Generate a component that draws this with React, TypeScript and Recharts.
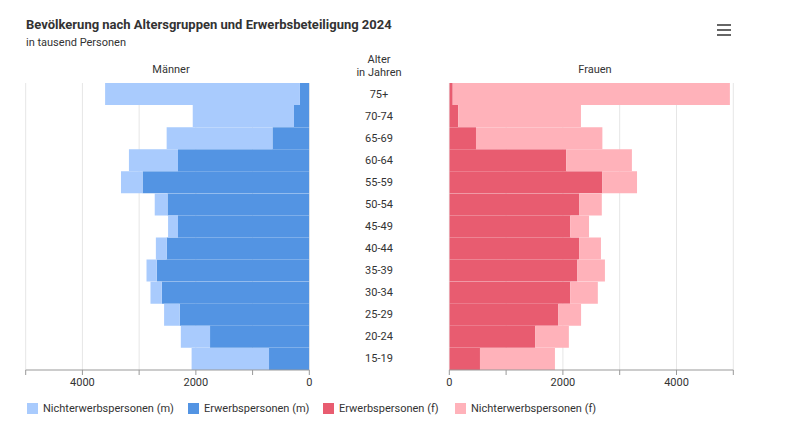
import React from 'react';
import { BarChart, Bar, XAxis, YAxis, CartesianGrid } from 'recharts';

if (typeof document !== 'undefined') {
  document.body.style.margin = '0';
}

const ageGroups = ['75+', '70-74', '65-69', '60-64', '55-59', '50-54', '45-49', '40-44', '35-39', '30-34', '25-29', '20-24', '15-19'];
const erwerbM = [165, 270, 650, 2315, 2940, 2500, 2315, 2515, 2690, 2600, 2285, 1750, 710];
const nichtM = [3435, 1785, 1865, 865, 380, 225, 175, 190, 180, 200, 275, 515, 1365];
const erwerbF = [60, 158, 470, 2060, 2695, 2290, 2130, 2285, 2255, 2130, 1920, 1515, 540];
const nichtF = [4880, 2160, 2225, 1155, 610, 395, 330, 385, 485, 485, 400, 590, 1320];
const xTicks = [0, 1000, 2000, 3000, 4000, 5000];

const C_NM = '#a9cbfd';
const C_EM = '#5394e3';
const C_EF = '#e85c70';
const C_NF = '#ffb2ba';

const FONT = 'Roboto, "Noto Sans", sans-serif';

const data = ageGroups.map((age, i) => ({
  age,
  erwM: erwerbM[i],
  nichtM: nichtM[i],
  erwF: erwerbF[i],
  nichtF: nichtF[i],
}));

const fmt = (v: number) => (v % 2000 === 0 ? String(v) : '');

const AgeTick = (props: any) => {
  const { x, y, payload } = props;
  return (
    <text x={x + 69.7} y={y} textAnchor="middle" dominantBaseline="central" fontSize={11} fill="#333" fontFamily={FONT}>
      {payload.value}
    </text>
  );
};

const axisProps = {
  type: 'number' as const,
  domain: [0, 5000],
  ticks: xTicks,
  interval: 0 as const,
  height: 30,
  tickSize: 5,
  tickMargin: 3,
  axisLine: { stroke: '#999' },
  tickLine: { stroke: '#999' },
  tick: { fill: '#333', fontSize: 11, fontFamily: FONT },
  tickFormatter: fmt,
  allowDataOverflow: true,
};

const legendItems = [
  { label: 'Nichterwerbspersonen (m)', color: C_NM, x: 27 },
  { label: 'Erwerbspersonen (m)', color: C_EM, x: 188 },
  { label: 'Erwerbspersonen (f)', color: C_EF, x: 323 },
  { label: 'Nichterwerbspersonen (f)', color: C_NF, x: 455 },
];

export default function App() {
  return (
    <div style={{ position: 'relative', width: 786, height: 422, background: '#fff', fontFamily: FONT, overflow: 'hidden' }}>
      <div style={{ position: 'absolute', left: 26, top: 17, fontSize: 13, fontWeight: 700, color: '#333', whiteSpace: 'nowrap' }}>
        Bevölkerung nach Altersgruppen und Erwerbsbeteiligung 2024
      </div>
      <div style={{ position: 'absolute', left: 26, top: 36, fontSize: 11, color: '#333', whiteSpace: 'nowrap' }}>
        in tausend Personen
      </div>
      <svg style={{ position: 'absolute', left: 716, top: 23 }} width={16} height={14}>
        <rect x={1} y={1} width={14} height={2} fill="#666" />
        <rect x={1} y={6} width={14} height={2} fill="#666" />
        <rect x={1} y={11} width={14} height={2} fill="#666" />
      </svg>
      <div style={{ position: 'absolute', left: 121, width: 100, top: 63, fontSize: 11, color: '#333', textAlign: 'center' }}>Männer</div>
      <div style={{ position: 'absolute', left: 545, width: 100, top: 63, fontSize: 11, color: '#333', textAlign: 'center' }}>Frauen</div>
      <div style={{ position: 'absolute', left: 329, width: 100, top: 53, fontSize: 11, color: '#333', textAlign: 'center', lineHeight: '13px' }}>
        Alter
        <br />
        in Jahren
      </div>

      <div style={{ position: 'absolute', left: 0, top: 0 }}>
        <BarChart
          width={450}
          height={422}
          data={data}
          layout="vertical"
          margin={{ top: 83, right: 0.7, bottom: 22, left: 25.7 }}
          barCategoryGap={0}
          barGap={0}
        >
          <CartesianGrid horizontal={false} stroke="#e6e6e6" />
          <XAxis {...axisProps} reversed />
          <YAxis
            type="category"
            dataKey="age"
            orientation="right"
            width={140}
            axisLine={false}
            tickLine={false}
            tickSize={0}
            tickMargin={0}
            interval={0}
            tick={<AgeTick />}
          />
          <Bar dataKey="erwM" stackId="m" fill={C_EM} isAnimationActive={false} />
          <Bar dataKey="nichtM" stackId="m" fill={C_NM} isAnimationActive={false} />
        </BarChart>
      </div>

      <div style={{ position: 'absolute', left: 400, top: 0 }}>
        <BarChart
          width={386}
          height={422}
          data={data}
          layout="vertical"
          margin={{ top: 83, right: 52.7, bottom: 22, left: 49.3 }}
          barCategoryGap={0}
          barGap={0}
        >
          <CartesianGrid horizontal={false} stroke="#e6e6e6" />
          <XAxis {...axisProps} />
          <YAxis type="category" dataKey="age" hide width={0} />
          <Bar dataKey="erwF" stackId="f" fill={C_EF} isAnimationActive={false} />
          <Bar dataKey="nichtF" stackId="f" fill={C_NF} isAnimationActive={false} />
        </BarChart>
      </div>

      {legendItems.map((it) => (
        <div key={it.label} style={{ position: 'absolute', left: it.x, top: 401, height: 14, display: 'flex', alignItems: 'center', whiteSpace: 'nowrap' }}>
          <span style={{ display: 'inline-block', width: 11, height: 11, background: it.color, marginRight: 5 }} />
          <span style={{ fontSize: 11, color: '#333' }}>{it.label}</span>
        </div>
      ))}
    </div>
  );
}
